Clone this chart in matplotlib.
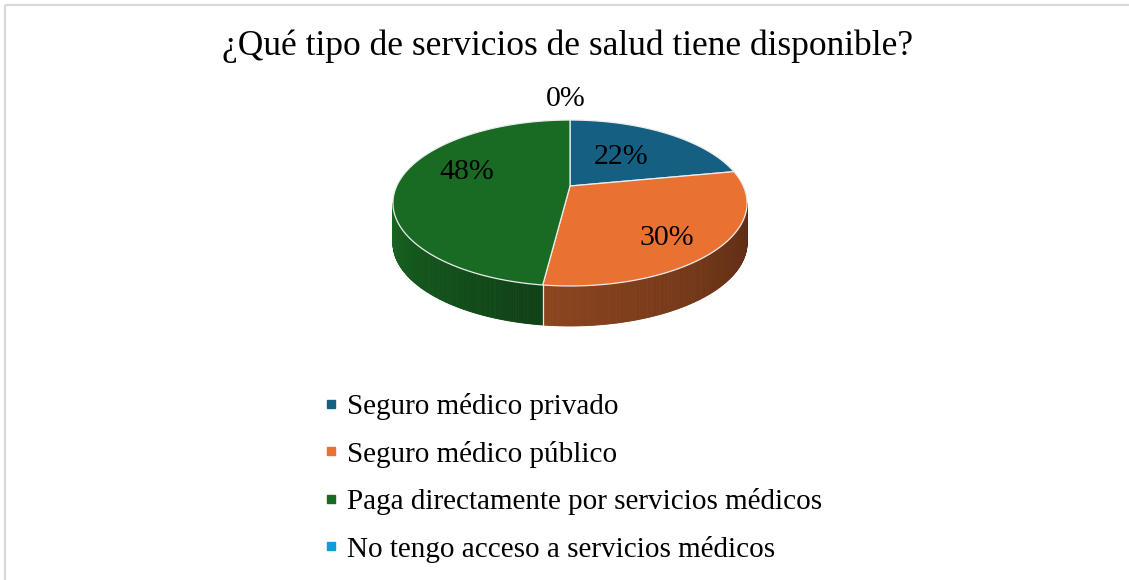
import numpy as np
import matplotlib
matplotlib.use("Agg")
import matplotlib.pyplot as plt
from matplotlib.patches import Polygon
from matplotlib.lines import Line2D
import matplotlib.colors as mcolors

# ---- data ----
title = "¿Qué tipo de servicios de salud tiene disponible?"
categories = ["Seguro médico privado", "Seguro médico público",
              "Paga directamente por servicios médicos",
              "No tengo acceso a servicios médicos"]
values = [22, 30, 48, 0]
colors = ["#156082", "#E97132", "#196B24", "#0F9ED5"]

# ---- layout / style ----
W, H = 1129, 580
FONT = "Liberation Serif"
cx, cy = 570.0, 186.0          # projected pie centre (pixels)
A, B, persp = 173.3, 79.5, 0.2048
drop = 40.0                     # side height (pixels)
label_r = 0.6
label_nudge = [(-9.5, 4.6), (14, 16), (0, -11), (-4, -1)]

fig = plt.figure(figsize=(W / 100, H / 100), dpi=100)
ax = fig.add_axes([0, 0, 1, 1])
ax.set_xlim(0, W)
ax.set_ylim(H, 0)
ax.axis("off")

# chart border (top and left visible)
ax.plot([5, W + 5], [5, 5], color="#D9D9D9", lw=1.6, solid_capstyle="butt")
ax.plot([5, 5], [5, H + 5], color="#D9D9D9", lw=1.6, solid_capstyle="butt")


def proj(theta_deg, r=1.0, z=0.0):
    t = np.radians(theta_deg)
    X = r * np.cos(t)
    Y = r * np.sin(t)
    w = 1 + persp * Y
    return cx + A * X / w, cy - B * Y / w + z * drop


total = float(sum(values))
cum = np.concatenate([[0], np.cumsum(values)]) / total
starts = 90 - 360 * cum[:-1]
ends = 90 - 360 * cum[1:]

shade_t = [192, 263, 348]
shade_f = [0.95, 0.60, 0.39]

# ---- side walls (drawn first) ----
for v, c, s, e in zip(values, colors, starts, ends):
    if v <= 0:
        continue
    base = np.array(mcolors.to_rgb(c))
    n = max(int((s - e) * 2), 2)
    th = np.linspace(s, e, n + 1)
    for t0, t1 in zip(th[:-1], th[1:]):
        tm = 0.5 * (t0 + t1)
        if np.sin(np.radians(tm)) >= -persp:
            continue
        f = np.interp(tm % 360, shade_t, shade_f)
        col = np.clip(base * f, 0, 1)
        x0, y0 = proj(t0)
        x1, y1 = proj(t1)
        poly = Polygon([(x0, y0), (x1, y1), (x1, y1 + drop), (x0, y0 + drop)],
                       closed=True, facecolor=col, edgecolor=col, lw=0.6)
        ax.add_patch(poly)

# separator lines on the side where slices meet
for e, v in zip(ends, values):
    if np.sin(np.radians(e)) < -persp and v > 0:
        x0, y0 = proj(e)
        ax.plot([x0, x0], [y0, y0 + drop], color="#E8E8E8", lw=0.9)

# ---- top faces ----
for v, c, s, e in zip(values, colors, starts, ends):
    if v <= 0:
        continue
    th = np.linspace(s, e, 200)
    xs, ys = proj(th)
    pts = [(cx, cy)] + list(zip(xs, ys))
    ax.add_patch(Polygon(pts, closed=True, facecolor=c, edgecolor="#EDEDED",
                         lw=0.9, joinstyle="round"))

# ---- data labels ----
for i, (v, s, e) in enumerate(zip(values, starts, ends)):
    mid = 0.5 * (s + e)
    r = label_r if v > 0 else 1.4
    x, y = proj(mid, r)
    dx, dy = label_nudge[i]
    ax.text(x + dx, y + dy, f"{v:.0f}%", fontsize=21.5, family=FONT,
            ha="center", va="center", color="#000000")

# ---- title ----
ax.text(567, 46, title, fontsize=25.5, family=FONT, ha="center", va="center",
        color="#000000")

# ---- legend ----
handles = [Line2D([], [], marker="s", linestyle="none", markersize=6,
                  markerfacecolor=c, markeredgecolor=c) for c in colors]
leg = ax.legend(handles, categories, loc="upper left",
                bbox_to_anchor=(324 / W, 1 - 393 / H), frameon=False,
                prop={"family": FONT, "size": 21}, handlelength=0.45,
                handletextpad=0.35, labelspacing=0.705, borderaxespad=0,
                borderpad=0)

fig.savefig("out.png", dpi=100)
